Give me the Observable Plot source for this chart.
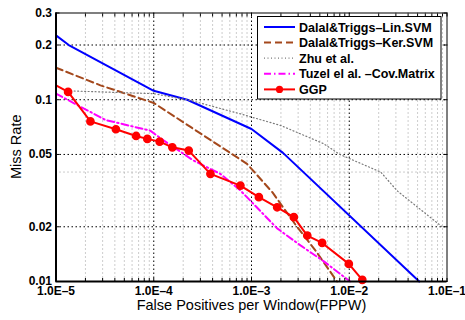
<!DOCTYPE html>
<html><head><meta charset="utf-8">
<script src="https://cdn.jsdelivr.net/npm/d3@7"></script>
<script src="https://cdn.jsdelivr.net/npm/@observablehq/plot@0.6"></script>
<style>
body{margin:0;background:#fff;}
#chart{position:relative;width:465px;height:320px;}
</style>
</head><body><div id="chart"></div>
<script>
// ---- data ----
const seriesNames = ["Dalal&Triggs–Lin.SVM","Dalal&Triggs–Ker.SVM","Zhu et al.","Tuzel el al. –Cov.Matrix","GGP"];

const linX = [1e-5, 1.35e-5, 1e-4, 2.2e-4, 1e-3, 2.1e-3, 5.2e-2];
const linY = [0.226, 0.2, 0.112, 0.1, 0.069, 0.051, 0.01];

const kerX = [1e-5, 2.85e-5, 1e-4, 2.4e-4, 9e-4, 1.64e-3, 2.94e-3, 4.52e-3, 7.5e-3];
const kerY = [0.15, 0.12, 0.096, 0.0706, 0.0444, 0.0309, 0.0199, 0.0148, 0.01];

const zhuX = [1.3e-5, 1e-4, 2.4e-4, 7.7e-4, 2e-3, 5.5e-3, 8e-3, 2.1e-2, 3.1e-2, 8.9e-2];
const zhuY = [0.112, 0.108, 0.099, 0.0836, 0.0721, 0.0572, 0.05, 0.04, 0.0315, 0.02];

const tuzX = [1e-5, 3.2e-5, 9.2e-5, 1.27e-4, 2.55e-4, 4.8e-4, 7.7e-4, 1.83e-3, 3.17e-3, 5.5e-3, 1.02e-2];
const tuzY = [0.108, 0.0774, 0.0676, 0.0596, 0.0463, 0.0391, 0.0317, 0.0196, 0.0158, 0.0129, 0.01];

const ggpX = [1e-5, 1.33e-5, 2.25e-5, 4.1e-5, 6.6e-5, 8.6e-5, 1.15e-4, 1.55e-4, 2.28e-4, 3.8e-4, 7.7e-4, 1.19e-3, 1.83e-3, 2.71e-3, 3.72e-3, 5.28e-3, 9.9e-3, 1.36e-2];
const ggpY = [0.12, 0.1104, 0.076, 0.0688, 0.0632, 0.0609, 0.0588, 0.0547, 0.0525, 0.0391, 0.0337, 0.0291, 0.0256, 0.0226, 0.0179, 0.0163, 0.0125, 0.0102];

const xTicks = [1e-5, 1e-4, 1e-3, 1e-2, 1e-1];
const xTickLabels = ["1.0E–5","1.0E–4","1.0E–3","1.0E–2","1.0E–1"];
const yTicks = [0.01, 0.02, 0.05, 0.1, 0.2, 0.3];
const yTickLabels = ["0.01","0.02","0.05","0.1","0.2","0.3"];
const minorMultiples = [2,3,4,5,6,7,8,9];
const yMinor = [0.04];

const xLabel = "False Positives per Window(FPPW)";
const yLabel = "Miss Rate";

// ---- build tables ----
const toRows = (xs, ys) => xs.map((x, i) => ({x, y: ys[i]}));
const lin = toRows(linX, linY), ker = toRows(kerX, kerY), zhu = toRows(zhuX, zhuY),
      tuz = toRows(tuzX, tuzY), ggp = toRows(ggpX, ggpY);
const xMinor = xTicks.slice(0, -1).flatMap(d => minorMultiples.map(m => d * m));
const xFmt = new Map(xTicks.map((d, i) => [d, xTickLabels[i]]));
const yFmt = new Map(yTicks.map((d, i) => [d, yTickLabels[i]]));

const colors = ["#0000ff", "#a4481c", "#7a7a7a", "#ff00ff", "#ff0000"];
const dashes = ["none", "7,4", "1,2.5", "7,3,1.5,3", "none"];
const widths = [2, 2, 1.2, 2, 2];
const datasets = [lin, ker, zhu, tuz, ggp];

const font = "'Liberation Sans', Arial, Helvetica, sans-serif";

const chart = Plot.plot({
  width: 465, height: 320,
  marginLeft: 55.5, marginRight: 18.5, marginTop: 12.5, marginBottom: 39,
  style: {fontFamily: font, background: "white", color: "black", overflow: "visible"},
  x: {type: "log", domain: [1e-5, 1e-1]},
  y: {type: "log", domain: [0.01, 0.3]},
  marks: [
    Plot.ruleX(xMinor, {stroke: "#9a9a9a", strokeWidth: 1, strokeDasharray: "1,3"}),
    Plot.ruleY(yMinor, {stroke: "#9a9a9a", strokeWidth: 1, strokeDasharray: "1,3"}),
    Plot.ruleX(xTicks.slice(1, -1), {stroke: "black", strokeWidth: 1, strokeDasharray: "1.5,2.5"}),
    Plot.ruleY(yTicks.slice(1, -1), {stroke: "black", strokeWidth: 1, strokeDasharray: "1.5,2.5"}),
    ...datasets.map((data, i) => Plot.line(data, {
      x: "x", y: "y", stroke: colors[i], strokeWidth: widths[i],
      strokeDasharray: dashes[i] === "none" ? undefined : dashes[i], curve: "linear"
    })),
    Plot.dot(ggp.slice(1), {x: "x", y: "y", r: 3.6, fill: colors[4], stroke: colors[4]}),
    Plot.frame({stroke: "black", strokeWidth: 1}),
    Plot.ruleX([1e-5], {stroke: "black", strokeWidth: 2}),
    Plot.ruleY([0.01], {stroke: "black", strokeWidth: 2}),
    // inward tick marks (MATLAB style)
    Plot.axisX({anchor: "bottom", ticks: xMinor.concat(xTicks), tickSize: -3, text: null, label: null, stroke: "black"}),
    Plot.axisX({anchor: "top", ticks: xMinor.concat(xTicks), tickSize: -3, text: null, label: null, stroke: "black"}),
    Plot.axisY({anchor: "left", ticks: yTicks, tickSize: -4, text: null, label: null, stroke: "black"}),
    Plot.axisY({anchor: "right", ticks: yTicks, tickSize: -4, text: null, label: null, stroke: "black"}),
    Plot.axisX({ticks: xTicks, tickFormat: d => xFmt.get(d), tickSize: 0, tickPadding: 5,
      fontWeight: "bold", fontSize: 12, label: null}),
    Plot.axisY({ticks: yTicks, tickFormat: d => yFmt.get(d), tickSize: 0, tickPadding: 4,
      fontWeight: "bold", fontSize: 12, label: null})
  ]
});
document.getElementById("chart").appendChild(chart);

// ---- axis titles & legend ----
const svg = d3.select(chart);
svg.append("text").attr("x", 251.5).attr("y", 310).attr("text-anchor", "middle")
  .attr("font-family", font).attr("font-size", 14.5).attr("fill", "black").text(xLabel);
svg.append("text").attr("transform", "translate(20.5,146.75) rotate(-90)").attr("text-anchor", "middle")
  .attr("font-family", font).attr("font-size", 14.5).attr("fill", "black").text(yLabel);

const lg = svg.append("g").attr("text-anchor", "start");
lg.append("rect").attr("x", 257.5).attr("y", 16.5).attr("width", 183.5).attr("height", 82.5)
  .attr("fill", "white").attr("stroke", "black").attr("stroke-width", 1);
seriesNames.forEach((name, i) => {
  const yy = 27 + i * 15.6;
  lg.append("line").attr("x1", 264).attr("x2", 295).attr("y1", yy).attr("y2", yy)
    .attr("stroke", colors[i]).attr("stroke-width", widths[i])
    .attr("stroke-dasharray", dashes[i]).attr("fill", "none");
  if (i === 4) lg.append("circle").attr("cx", 279.5).attr("cy", yy).attr("r", 3.6).attr("fill", colors[i]);
  lg.append("text").attr("x", 299).attr("y", yy).attr("dy", "0.36em").attr("text-anchor", "start")
    .attr("font-family", font).attr("font-size", 12.5).attr("font-weight", "bold")
    .attr("fill", "black").text(name);
});
</script>
</body></html>
